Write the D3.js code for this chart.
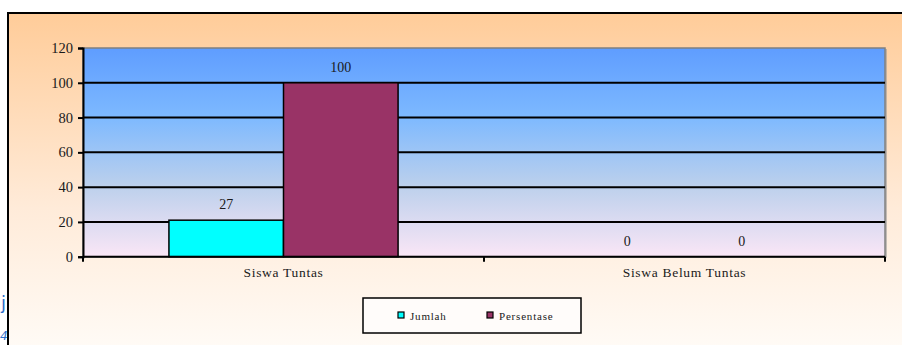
<!DOCTYPE html>
<html>
<head>
<meta charset="utf-8">
<script src="https://cdn.jsdelivr.net/npm/d3@7"></script>
<style>
  body { margin: 0; background: #fff; }
  svg { display: block; font-family: "Liberation Serif", "DejaVu Serif", serif; }
</style>
</head>
<body>
<div id="chart"></div>
<script>
const categories = ['Siswa Tuntas', 'Siswa Belum Tuntas'];
const seriesNames = ['Jumlah', 'Persentase'];
const seriesColors = ['#00FFFF', '#993366'];
// bar heights as drawn in the picture, and the labels printed over them
const jumlahValues = [21, 0];
const persentaseValues = [100, 0];
const jumlahLabels = ['27', '0'];
const persentaseLabels = ['100', '0'];
const yTicks = [0, 20, 40, 60, 80, 100, 120];

const width = 902, height = 345;
const margin = { top: 48, right: 17, bottom: 88, left: 83 };

const svg = d3.select('#chart').append('svg')
    .attr('width', width)
    .attr('height', height);

const defs = svg.append('defs');
const frameGrad = defs.append('linearGradient')
    .attr('id', 'frameGrad').attr('x1', 0).attr('y1', 0).attr('x2', 0).attr('y2', 1);
frameGrad.append('stop').attr('offset', '0%').attr('stop-color', '#FFCC99');
frameGrad.append('stop').attr('offset', '55%').attr('stop-color', '#FFEBD9');
frameGrad.append('stop').attr('offset', '100%').attr('stop-color', '#FFFDFA');

const plotGrad = defs.append('linearGradient')
    .attr('id', 'plotGrad').attr('x1', 0).attr('y1', 0).attr('x2', 0).attr('y2', 1);
plotGrad.append('stop').attr('offset', '0%').attr('stop-color', '#5F9DFF');
plotGrad.append('stop').attr('offset', '33%').attr('stop-color', '#7DB9FF');
plotGrad.append('stop').attr('offset', '66%').attr('stop-color', '#BCD0EC');
plotGrad.append('stop').attr('offset', '100%').attr('stop-color', '#FAE6F6');

// stray text of the underlying page on the left
svg.append('text').attr('x', 1).attr('y', 309)
    .attr('font-family', 'DejaVu Sans, sans-serif').attr('font-size', 18)
    .attr('fill', '#2E6FC9').text('j');
svg.append('text').attr('x', 0).attr('y', 340)
    .attr('font-family', 'DejaVu Sans, sans-serif').attr('font-size', 12)
    .attr('font-style', 'italic').attr('fill', '#2E6FC9').text('4');

// chart frame
svg.append('rect')
    .attr('x', 8).attr('y', 13)
    .attr('width', width + 10).attr('height', height + 10)
    .attr('fill', 'url(#frameGrad)')
    .attr('stroke', '#000').attr('stroke-width', 2);

const x0 = d3.scaleBand()
    .domain(categories)
    .range([margin.left, width - margin.right])
    .padding(0);

const x1 = d3.scaleBand()
    .domain(seriesNames)
    .range([0, x0.bandwidth()])
    .paddingInner(0)
    .paddingOuter(0.75);

const y = d3.scaleLinear()
    .domain([0, 120])
    .range([height - margin.bottom - 0.3, margin.top]);

// plot area with shadow
svg.append('rect')
    .attr('x', margin.left + 2).attr('y', y(120) + 1)
    .attr('width', x0.range()[1] - margin.left).attr('height', y(0) - y(120))
    .attr('fill', '#9a9a9a').attr('opacity', 0.6);
svg.append('rect')
    .attr('x', margin.left).attr('y', y(120))
    .attr('width', x0.range()[1] - margin.left).attr('height', y(0) - y(120))
    .attr('fill', 'url(#plotGrad)')
    .attr('stroke', '#808080').attr('stroke-width', 1.5);

// gridlines
svg.append('g').selectAll('line')
    .data(yTicks.filter(d => d > 0 && d < 120))
    .join('line')
    .attr('x1', margin.left).attr('x2', x0.range()[1])
    .attr('y1', d => y(d)).attr('y2', d => y(d))
    .attr('stroke', '#000').attr('stroke-width', 2);

// bars
const series = [
    { name: seriesNames[0], values: jumlahValues, labels: jumlahLabels, color: seriesColors[0] },
    { name: seriesNames[1], values: persentaseValues, labels: persentaseLabels, color: seriesColors[1] }
];

const barData = [];
series.forEach(s => {
    categories.forEach((c, i) => {
        barData.push({ cat: c, name: s.name, value: s.values[i], label: s.labels[i], color: s.color });
    });
});

svg.append('g').selectAll('rect')
    .data(barData.filter(d => d.value > 0))
    .join('rect')
    .attr('x', d => x0(d.cat) + x1(d.name))
    .attr('y', d => y(d.value))
    .attr('width', x1.bandwidth())
    .attr('height', d => y(0) - y(d.value))
    .attr('fill', d => d.color)
    .attr('stroke', '#000').attr('stroke-width', 1.5);

// data labels
svg.append('g').selectAll('text')
    .data(barData)
    .join('text')
    .attr('x', d => x0(d.cat) + x1(d.name) + x1.bandwidth() / 2)
    .attr('y', d => y(d.value) - 11)
    .attr('text-anchor', 'middle')
    .attr('font-size', 14)
    .attr('fill', '#1a1a1a')
    .text(d => d.label);

// y axis
const yAxis = svg.append('g')
    .attr('transform', `translate(${margin.left},0)`)
    .call(d3.axisLeft(y).tickValues(yTicks).tickSize(5).tickPadding(5));
yAxis.select('.domain').attr('stroke', '#000').attr('stroke-width', 2);
yAxis.selectAll('.tick line').attr('stroke', '#000').attr('stroke-width', 2);
yAxis.selectAll('.tick text')
    .attr('font-family', 'Liberation Serif, serif')
    .attr('font-size', 14.5).attr('fill', '#1a1a1a');

// x axis
const xAxisG = svg.append('g').attr('transform', `translate(0,${y(0)})`);
xAxisG.append('line')
    .attr('x1', margin.left).attr('x2', x0.range()[1])
    .attr('stroke', '#000').attr('stroke-width', 2);
xAxisG.selectAll('line.tick')
    .data(categories.map(c => x0(c)).concat([x0.range()[1]]))
    .join('line')
    .attr('class', 'tick')
    .attr('x1', d => d).attr('x2', d => d)
    .attr('y1', 0).attr('y2', 5)
    .attr('stroke', '#000').attr('stroke-width', 2);
xAxisG.selectAll('text')
    .data(categories)
    .join('text')
    .attr('x', d => x0(d) + x0.bandwidth() / 2)
    .attr('y', 20)
    .attr('text-anchor', 'middle')
    .attr('font-size', 13.5)
    .attr('letter-spacing', 0.7)
    .attr('fill', '#1a1a1a')
    .text(d => d);

// legend
const legend = svg.append('g');
legend.append('rect')
    .attr('x', 363).attr('y', 298)
    .attr('width', 218).attr('height', 35)
    .attr('fill', '#FFFCFA')
    .attr('stroke', '#000').attr('stroke-width', 1.5);

const legendX = [398, 487];
const items = legend.selectAll('g.item')
    .data(series)
    .join('g')
    .attr('class', 'item')
    .attr('transform', (d, i) => `translate(${legendX[i]},312)`);
items.append('rect')
    .attr('width', 6).attr('height', 6)
    .attr('fill', d => d.color)
    .attr('stroke', '#000').attr('stroke-width', 1.2);
items.append('text')
    .attr('x', 12).attr('y', 7.5)
    .attr('font-size', 11)
    .attr('letter-spacing', 0.8)
    .attr('fill', '#1a1a1a')
    .text(d => d.name);
</script>
</body>
</html>
